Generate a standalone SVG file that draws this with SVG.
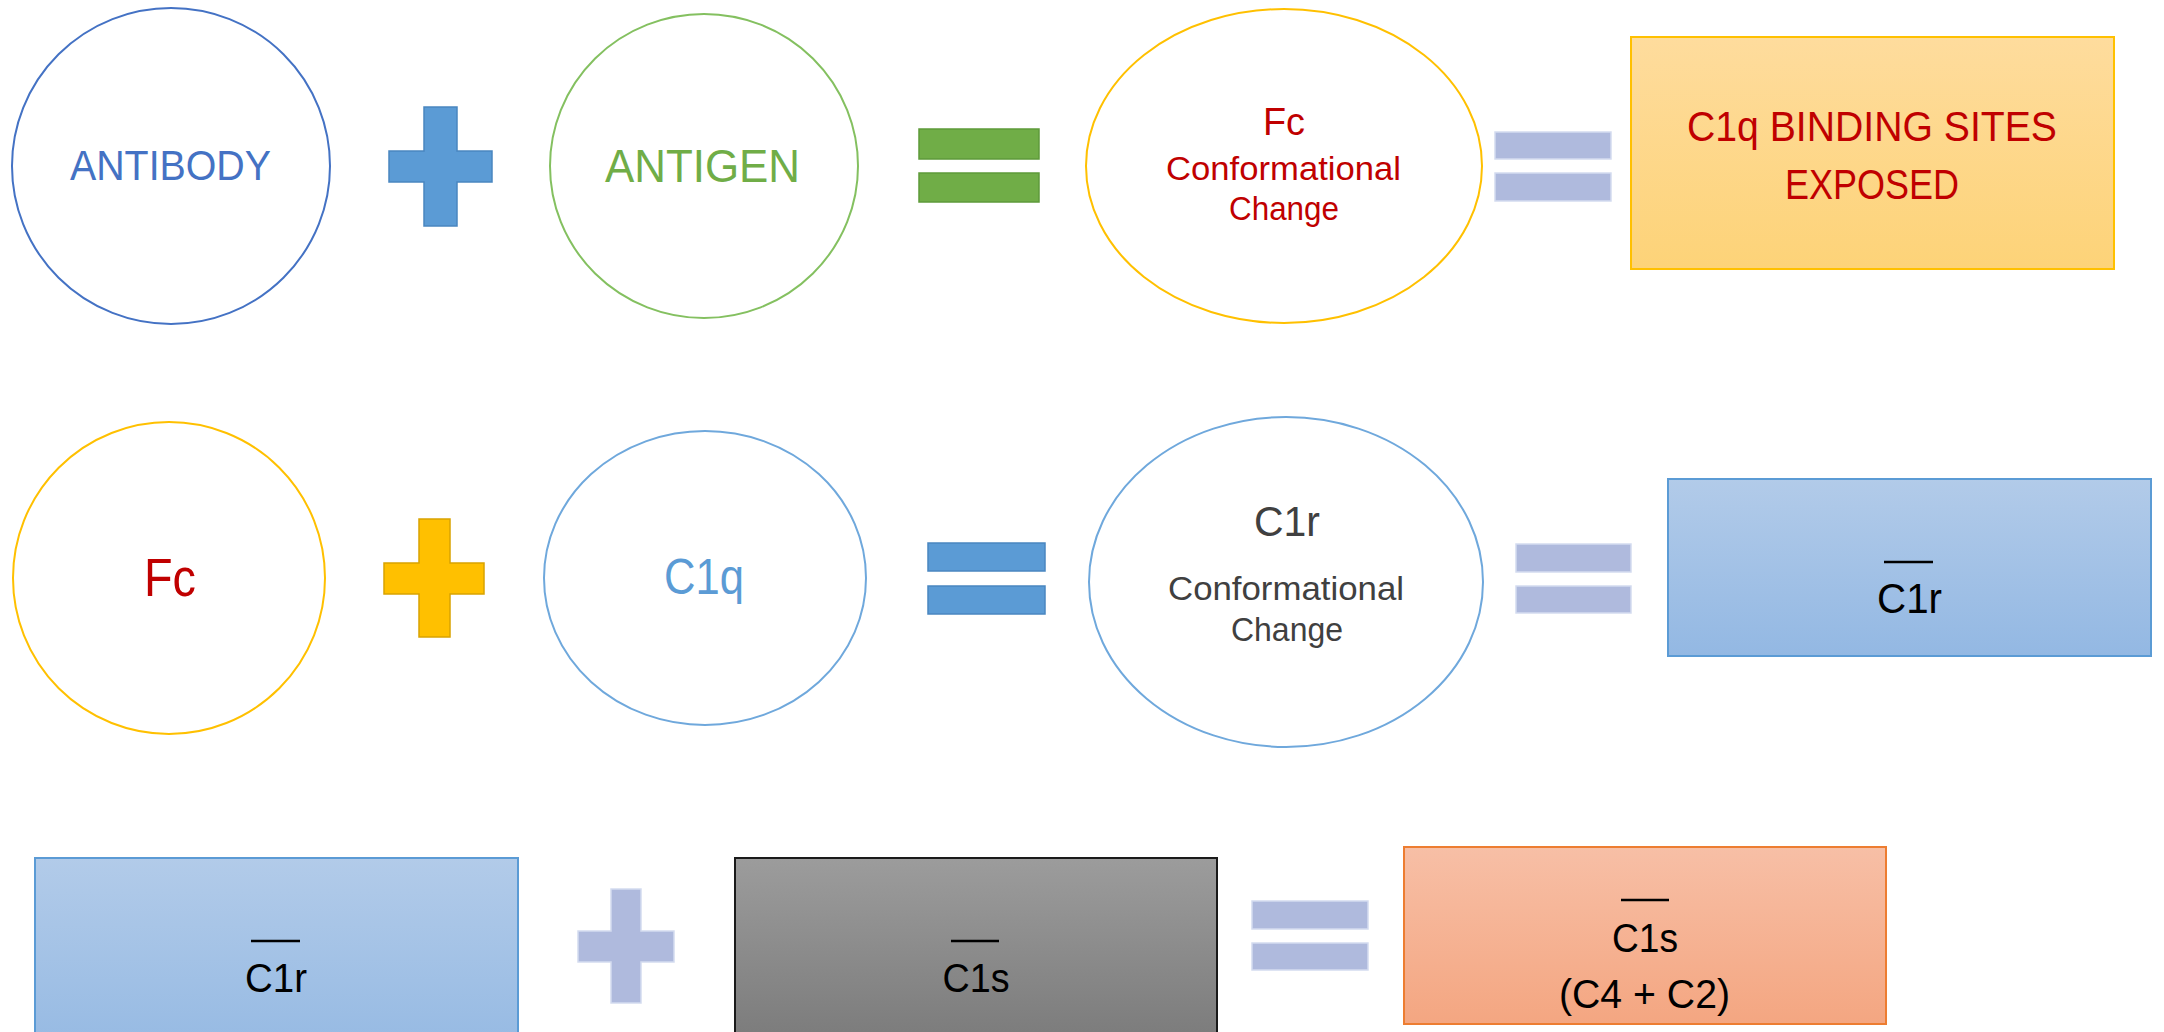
<svg xmlns="http://www.w3.org/2000/svg" width="2164" height="1032" viewBox="0 0 2164 1032">
  <style>
    text { font-family: "Liberation Sans", Arial, sans-serif; text-anchor: middle; }
    .ring { fill: #ffffff; stroke-width: 2; }
    .eq-lav { fill: #afbadd; stroke: #d4dbef; stroke-width: 1.5; }
    .bar { stroke: #000000; stroke-width: 2.5; }
  </style>
  <defs>
    <linearGradient id="gOrange" x1="0" y1="0" x2="0" y2="1">
      <stop offset="0" stop-color="#fedc9d"/>
      <stop offset="1" stop-color="#fdd378"/>
    </linearGradient>
    <linearGradient id="gBlue" x1="0" y1="0" x2="0" y2="1">
      <stop offset="0" stop-color="#b2cbe9"/>
      <stop offset="1" stop-color="#93b8e3"/>
    </linearGradient>
    <linearGradient id="gBlue2" x1="0" y1="0" x2="0" y2="1">
      <stop offset="0" stop-color="#b2cbe9"/>
      <stop offset="1" stop-color="#96bae3"/>
    </linearGradient>
    <linearGradient id="gGray" x1="0" y1="0" x2="0" y2="1">
      <stop offset="0" stop-color="#9c9c9c"/>
      <stop offset="1" stop-color="#7a7a7a"/>
    </linearGradient>
    <linearGradient id="gSalmon" x1="0" y1="0" x2="0" y2="1">
      <stop offset="0" stop-color="#f7bfa6"/>
      <stop offset="1" stop-color="#f4a681"/>
    </linearGradient>
  </defs>

  <!-- operator symbols (plus / equals) -->
  <g id="operators">
    <polygon points="424,107 457,107 457,151 492,151 492,182 457,182 457,226 424,226 424,182 389,182 389,151 424,151" fill="#5b9bd5" stroke="#4a86c0" stroke-width="1.5"/>
    <rect x="919" y="129" width="120" height="30" fill="#70ad47" stroke="#5e9a3a" stroke-width="1.5"/>
    <rect x="919" y="173" width="120" height="29" fill="#70ad47" stroke="#5e9a3a" stroke-width="1.5"/>
    <rect class="eq-lav" x="1495" y="132" width="116" height="27"/>
    <rect class="eq-lav" x="1495" y="173" width="116" height="28"/>

    <polygon points="419,519 450,519 450,563 484,563 484,594 450,594 450,637 419,637 419,594 384,594 384,563 419,563" fill="#ffc000" stroke="#d9a300" stroke-width="1.5"/>
    <rect x="928" y="543" width="117" height="28" fill="#5b9bd5" stroke="#4a86c0" stroke-width="1.5"/>
    <rect x="928" y="586" width="117" height="28" fill="#5b9bd5" stroke="#4a86c0" stroke-width="1.5"/>
    <rect class="eq-lav" x="1516" y="544" width="115" height="28"/>
    <rect class="eq-lav" x="1516" y="586" width="115" height="27"/>

    <polygon class="eq-lav" points="611,889 641,889 641,931 674,931 674,962 641,962 641,1003 611,1003 611,962 578,962 578,931 611,931"/>
    <rect class="eq-lav" x="1252" y="901" width="116" height="28"/>
    <rect class="eq-lav" x="1252" y="943" width="116" height="27"/>
  </g>

  <!-- row 1 -->
  <g id="antibody">
    <ellipse class="ring" cx="171" cy="166" rx="159" ry="158" stroke="#4472c4"/>
    <text x="170.5" y="180" font-size="42" fill="#4472c4" textLength="201" lengthAdjust="spacingAndGlyphs">ANTIBODY</text>
  </g>
  <g id="antigen">
    <ellipse class="ring" cx="704" cy="166" rx="154" ry="152" stroke="#84c060"/>
    <text x="702.5" y="182" font-size="46" fill="#70ad47" textLength="195" lengthAdjust="spacingAndGlyphs">ANTIGEN</text>
  </g>
  <g id="fc-change">
    <ellipse class="ring" cx="1284" cy="166" rx="198" ry="157" stroke="#ffc000"/>
    <text x="1284" y="135" font-size="39" fill="#c00000" textLength="42" lengthAdjust="spacingAndGlyphs">Fc</text>
    <text x="1283.5" y="180" font-size="33" fill="#c00000" textLength="235" lengthAdjust="spacingAndGlyphs">Conformational</text>
    <text x="1284" y="220" font-size="33" fill="#c00000" textLength="110" lengthAdjust="spacingAndGlyphs">Change</text>
  </g>
  <g id="c1q-sites">
    <rect x="1631" y="37" width="483" height="232" fill="url(#gOrange)" stroke="#ffc000" stroke-width="2"/>
    <text x="1872" y="141" font-size="43" fill="#c00000" textLength="370" lengthAdjust="spacingAndGlyphs">C1q BINDING SITES</text>
    <text x="1872" y="199" font-size="43" fill="#c00000" textLength="174" lengthAdjust="spacingAndGlyphs">EXPOSED</text>
  </g>

  <!-- row 2 -->
  <g id="fc">
    <ellipse class="ring" cx="169" cy="578" rx="156" ry="156" stroke="#ffc000"/>
    <text x="170" y="596" font-size="54" fill="#c00000" textLength="52" lengthAdjust="spacingAndGlyphs">Fc</text>
  </g>
  <g id="c1q">
    <ellipse class="ring" cx="705" cy="578" rx="161" ry="147" stroke="#6fa8dc"/>
    <text x="704" y="594" font-size="50" fill="#5b9bd5" textLength="80" lengthAdjust="spacingAndGlyphs">C1q</text>
  </g>
  <g id="c1r-change">
    <ellipse class="ring" cx="1286" cy="582" rx="197" ry="165" stroke="#6fa8dc"/>
    <text x="1287" y="536" font-size="42" fill="#404040" textLength="66" lengthAdjust="spacingAndGlyphs">C1r</text>
    <text x="1286" y="600" font-size="33" fill="#404040" textLength="236" lengthAdjust="spacingAndGlyphs">Conformational</text>
    <text x="1287" y="641" font-size="33" fill="#404040" textLength="112" lengthAdjust="spacingAndGlyphs">Change</text>
  </g>
  <g id="c1r-active">
    <rect x="1668" y="479" width="483" height="177" fill="url(#gBlue)" stroke="#5b9bd5" stroke-width="2"/>
    <line class="bar" x1="1884" y1="562" x2="1933" y2="562"/>
    <text x="1909.5" y="613" font-size="42" fill="#000000" textLength="65" lengthAdjust="spacingAndGlyphs">C1r</text>
  </g>

  <!-- row 3 -->
  <g id="c1r-bar">
    <rect x="35" y="858" width="483" height="190" fill="url(#gBlue2)" stroke="#5b9bd5" stroke-width="2"/>
    <line class="bar" x1="251" y1="941" x2="300" y2="941"/>
    <text x="276" y="992" font-size="41" fill="#000000" textLength="62" lengthAdjust="spacingAndGlyphs">C1r</text>
  </g>
  <g id="c1s-bar">
    <rect x="735" y="858" width="482" height="190" fill="url(#gGray)" stroke="#1a1a1a" stroke-width="2"/>
    <line class="bar" x1="951" y1="941" x2="999" y2="941"/>
    <text x="976" y="992" font-size="41" fill="#000000" textLength="67" lengthAdjust="spacingAndGlyphs">C1s</text>
  </g>
  <g id="c1s-active">
    <rect x="1404" y="847" width="482" height="177" fill="url(#gSalmon)" stroke="#ed7d31" stroke-width="2"/>
    <line class="bar" x1="1621" y1="900" x2="1669" y2="900"/>
    <text x="1645" y="952" font-size="40" fill="#000000" textLength="66" lengthAdjust="spacingAndGlyphs">C1s</text>
    <text x="1644.5" y="1008" font-size="40" fill="#000000" textLength="171" lengthAdjust="spacingAndGlyphs">(C4 + C2)</text>
  </g>
</svg>
